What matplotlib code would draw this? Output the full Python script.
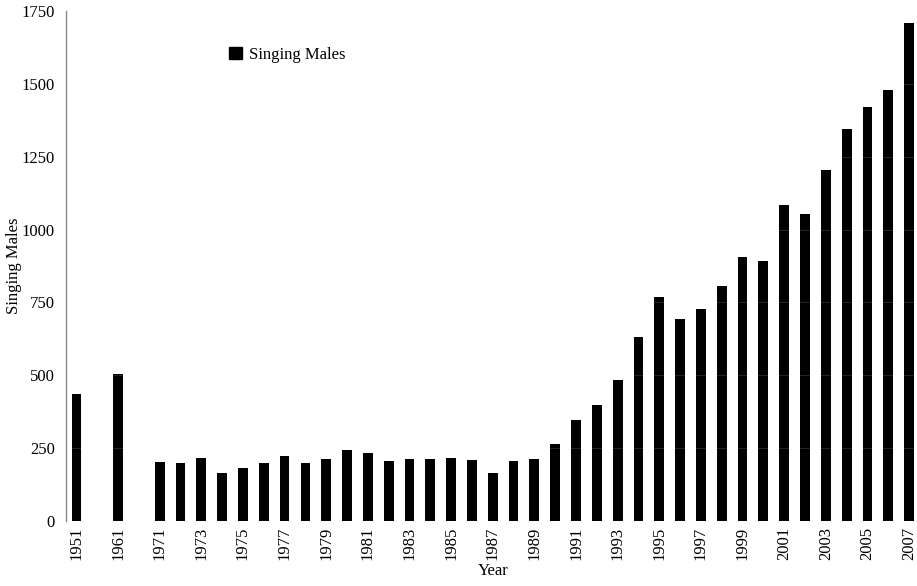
import numpy as np
import matplotlib
matplotlib.use("Agg")
import matplotlib.pyplot as plt
from matplotlib.patches import Patch

plt.rcParams['font.family'] = ['Liberation Serif', 'DejaVu Serif']

# survey years, with empty slots between the early counts
years = ['1951', '', '1961', ''] + [str(y) for y in range(1971, 2008)]
males = [435, np.nan, 504, np.nan,
         202, 200, 217, 166, 181, 200, 222, 200, 212, 244,
         232, 206, 214, 214, 217, 210, 165, 206, 213, 265,
         347, 397, 485, 633, 768, 692, 729, 806, 905, 891,
         1085, 1052, 1203, 1344, 1421, 1480, 1708]
# only every second year gets a label
tick_labels = ['1951', '', '1961', ''] + [str(y) if (y - 1971) % 2 == 0 else '' for y in range(1971, 2008)]

fig = plt.figure(figsize=(9.17, 5.86), dpi=100)
ax = fig.add_axes([66 / 917, 65 / 586, 853.5 / 917, 510 / 586])

x = np.arange(len(years))
vals = np.nan_to_num(np.array(males, dtype=float))
ax.bar(x, vals, width=0.47, color='black', zorder=2)

ax.set_xlim(-0.5, len(years) - 0.5)
ax.set_ylim(0, 1750)
ax.set_yticks(np.arange(0, 1751, 250))
ax.yaxis.grid(True, color='white', linewidth=0.5, alpha=0.2, zorder=3)
ax.set_axisbelow(False)

ax.set_xticks(x)
ax.set_xticklabels(tick_labels, rotation=90, fontsize=12)
ax.tick_params(axis='x', length=0, pad=4)
ax.tick_params(axis='y', length=0, pad=8, labelsize=12)

for side in ['top', 'right', 'bottom']:
    ax.spines[side].set_visible(False)
ax.spines['left'].set_color('#888888')
ax.spines['left'].set_linewidth(1.0)

ax.set_xlabel('Year', fontsize=12, labelpad=2)
ax.set_ylabel('Singing Males', fontsize=12)
ax.yaxis.set_label_coords(-0.052, 0.5)

ax.legend(handles=[Patch(color='black', label='Singing Males')],
          loc='upper left', bbox_to_anchor=(214 / 917, 1 - 32 / 586),
          bbox_transform=fig.transFigure, frameon=False, fontsize=12,
          handlelength=0.75, handleheight=0.75, handletextpad=0.45)

fig.savefig('out.png', dpi=100)
